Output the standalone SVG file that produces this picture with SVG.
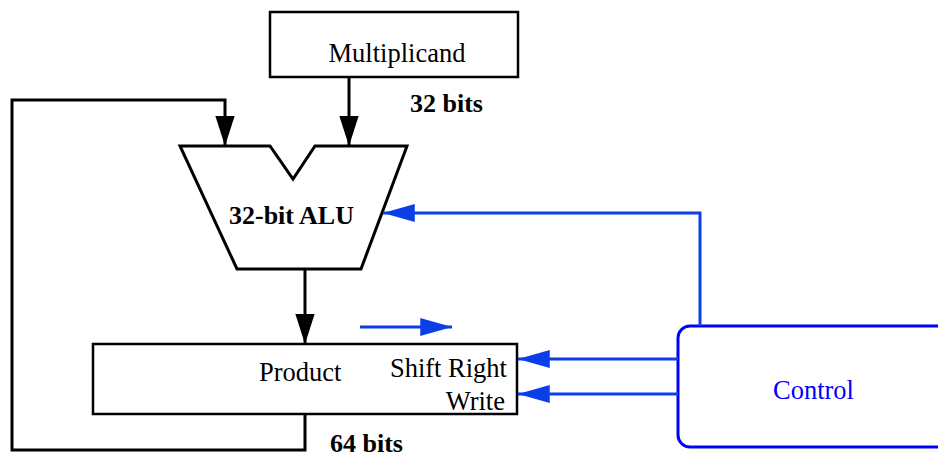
<svg xmlns="http://www.w3.org/2000/svg" width="938" height="459" viewBox="0 0 938 459">
<style>
  .box{fill:#fff;stroke:#000;stroke-width:2.5}
  .wire{fill:none;stroke:#000;stroke-width:3}
  .bwire{fill:none;stroke:#0a3ee8;stroke-width:3}
  .t{font-family:"Liberation Serif","Times New Roman",serif;font-size:26.5px;fill:#000}
  .b{font-weight:bold;font-size:26px}
</style>
<defs>
  <marker id="ah" markerUnits="userSpaceOnUse" markerWidth="30" markerHeight="20" viewBox="0 0 28 18" refX="28" refY="9" orient="auto">
    <path d="M0,0 L28,9 L0,18 Z" fill="#000"/>
  </marker>
  <marker id="bh" markerUnits="userSpaceOnUse" markerWidth="32" markerHeight="18" viewBox="0 0 30 17" refX="30" refY="8.5" orient="auto">
    <path d="M0,0 L30,8.5 L0,17 Z" fill="#0a3ee8"/>
  </marker>
</defs>
<rect width="938" height="459" fill="#fff"/>
<g id="multiplicand">
  <rect class="box" x="270" y="12" width="248" height="65"/>
  <text class="t" x="397" y="62" text-anchor="middle">Multiplicand</text>
</g>
<g id="alu">
  <path d="M180,146 L270,146 L293,179 L315,146 L407,146 L361,269 L237,269 Z" fill="#fff" stroke="#000" stroke-width="3" stroke-linejoin="miter"/>
  <text class="t b" x="229" y="224">32-bit ALU</text>
</g>
<g id="product">
  <rect class="box" x="93" y="344" width="424" height="70"/>
  <text class="t" x="259" y="381">Product</text>
  <text class="t" x="507" y="377" text-anchor="end">Shift Right</text>
  <text class="t" x="505" y="410" text-anchor="end">Write</text>
</g>
<g id="control">
  <rect x="678" y="326" width="300" height="121" rx="12" fill="#fff" stroke="#0000ff" stroke-width="3"/>
  <text class="t" x="773" y="399" style="fill:#0000ff">Control</text>
</g>
<g id="connectors">
  <path class="wire" d="M349,77 V146" marker-end="url(#ah)"/>
  <path class="wire" d="M305,414 V450 H12 V100 H225 V146" marker-end="url(#ah)"/>
  <path class="wire" d="M305,269 V344" marker-end="url(#ah)"/>
  <path class="bwire" d="M700,326 V213 H383" marker-end="url(#bh)"/>
  <path class="bwire" d="M678,359 H518" marker-end="url(#bh)"/>
  <path class="bwire" d="M678,394 H518" marker-end="url(#bh)"/>
  <path class="bwire" d="M360,327 H452" marker-end="url(#bh)"/>
</g>
<g id="labels">
  <text class="t b" x="410" y="112">32 bits</text>
  <text class="t b" x="330" y="452">64 bits</text>
</g>
</svg>
